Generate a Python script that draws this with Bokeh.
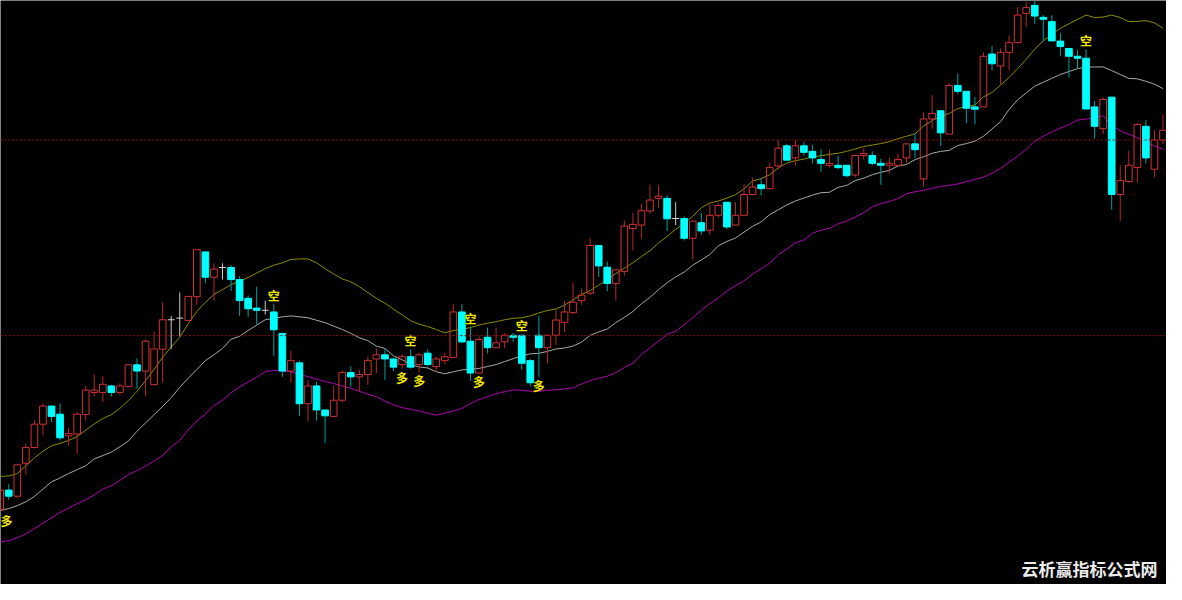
from bokeh.plotting import figure
from bokeh.models import ColumnDataSource, Range1d, Span, Label
from bokeh.core.properties import value
from bokeh.embed import file_html
from bokeh.resources import INLINE
import numpy as np

# ---------------- data ----------------
opens = [77, 97, 90.7, 124.5, 140.7, 164.7, 183.3, 175, 152.7, 154.7,
         174.7, 197.3, 197.3, 204, 197.3, 203.3, 225.7, 219.3, 205.3, 241.7,
         272, 273.7, 271.3, 295.7, 341.7, 315.7, 325.7, 325.7, 313.3, 294,
         284, 281.7, 280, 258, 219.3, 227.7, 185.7, 204, 179.3, 172.7,
         189.3, 217.7, 213.3, 215.7, 231.7, 236, 231.7, 226, 234, 226,
         237.7, 224, 230, 233.3, 280, 250, 217.3, 254, 243.3, 249.3,
         256, 256, 230, 256, 243.3, 256, 269.3, 279.3, 291.7, 299.3,
         348.3, 326, 309.3, 321.7, 365.7, 369.3, 383.7, 396.7, 396.7, 376,
         376, 355.7, 371.7, 364, 379.3, 392.7, 369.3, 379.3, 400.7, 410.7,
         406.7, 430, 450.7, 438.3, 450.7, 445, 436.7, 430.7, 430.7, 430.7,
         420.7, 440.7, 440.7, 432.7, 430.7, 430.7, 438.3, 452.7, 416.7, 478.3,
         486.7, 462.7, 512.7, 506.7, 490.7, 490.7, 545, 532.7, 546.7, 556.7,
         586.7, 595, 582.7, 578.3, 558.3, 550.7, 542.7, 540.7, 490.7, 468.3,
         500.7, 400.7, 414, 428.3, 470.7, 426.7, 456.7]
highs = [100, 103, 124, 145, 169, 186, 184, 186, 160.7, 177.3,
         204, 216, 214, 205, 206.7, 226, 232.3, 251.7, 260, 290,
         276, 300, 296, 344, 342, 330, 330, 328.3, 316.7, 297,
         306, 291.7, 288.3, 258.3, 240, 230, 210, 208.3, 179.5, 204,
         220, 224, 220.7, 234, 242.7, 241.7, 233, 236.7, 241.7, 238.3,
         241.7, 234, 238.3, 288.3, 288.3, 265, 255, 264, 264, 258.3,
         258.3, 257, 232, 276, 257, 281.7, 291, 310, 304, 356,
         348.5, 331.7, 323.5, 374, 381.7, 390.7, 410.7, 410.7, 400, 392.7,
         378.3, 373.5, 381.7, 390.7, 391.7, 393, 392.7, 411.7, 418.3, 416.7,
         433.3, 456.7, 452.7, 456.7, 455, 451.7, 447.3, 446.7, 440.7, 431,
         441, 448.3, 445, 437.3, 438.3, 442.7, 453, 463.3, 485, 502.7,
         487, 515, 525, 507, 500.7, 546.7, 553.3, 550.7, 564, 593.3,
         598.3, 599.5, 585, 585, 566.7, 551, 549.3, 550, 496.7, 500.7,
         501, 430.7, 446, 474, 477.3, 466.7, 482.7]
lows = [74, 87, 89, 113, 140, 153.3, 167, 148, 142.7, 134.7,
        168.3, 193.3, 187.3, 193.3, 195, 203, 201.3, 193.3, 205, 207.3,
        241.7, 255, 271, 287.3, 309.3, 291.7, 313.3, 301.7, 276, 275,
        267, 277.3, 235, 213.3, 207.3, 173.3, 167.3, 168.3, 145, 172.5,
        186.7, 203.3, 198.3, 205, 217.3, 210, 219.3, 221.7, 221.7, 218.3,
        224, 218.3, 226, 233, 248, 209.3, 217.3, 237.3, 243, 242.7,
        249.3, 220.7, 203.3, 213.3, 227.3, 246, 259.3, 278, 287.3, 297.3,
        316, 301.3, 291.7, 317.3, 343.3, 355, 380.7, 387.3, 363.3, 369.3,
        353.3, 334, 359.3, 359.3, 377.3, 365, 369, 379, 400, 400,
        406.5, 426.7, 435.8, 430.7, 440.7, 432.7, 424, 428.3, 426.7, 418.3,
        418.3, 436.7, 430.7, 410.7, 422.7, 430.5, 432.7, 438.3, 408.3, 468.3,
        450.7, 462.5, 504, 474, 472.7, 490.5, 528.3, 514, 528.3, 556.5,
        572.7, 576, 558.3, 558.3, 542.7, 520.7, 530, 488.3, 458.3, 462.7,
        385, 373.3, 412.7, 412.7, 432.7, 418.3, 452.7]
closes = [97, 90.7, 123, 140.7, 164.7, 183.3, 172.7, 150.7, 155, 175,
          199.7, 199.7, 205.7, 197.3, 204, 225.7, 219.3, 250, 242, 272,
          272, 273.7, 296, 344, 315.7, 324, 325.7, 313.3, 291.7, 283.3,
          281.7, 281.7, 261.7, 219.3, 230, 185.7, 204, 179.3, 173.3, 189.3,
          217.7, 213.3, 215.7, 230, 236, 231.7, 223.3, 234, 223.3, 236,
          226, 231.7, 234, 280, 249.3, 217.3, 251.7, 243.3, 248.3, 256,
          254, 227.3, 207.3, 243.3, 256, 271.7, 280, 290, 297.3, 348.3,
          327.3, 309.3, 323.3, 368.3, 370, 384, 395, 399, 375.7, 376,
          355.7, 373.3, 363.3, 379.3, 389.3, 367.3, 379.3, 400.7, 408.3, 406.7,
          428.3, 448.3, 436, 450.7, 444, 438.3, 432.7, 432.7, 428.3, 420,
          440.7, 442.7, 432.7, 430.7, 432.7, 436.7, 452.7, 446.7, 478.3, 484,
          464, 512.7, 506.7, 489.3, 488.3, 542.7, 535, 546.7, 556.7, 585,
          592.7, 584, 580.7, 558.5, 552.7, 542.7, 540.7, 488.5, 470.7, 498.3,
          400.7, 415, 430.7, 472.7, 438.3, 456.7, 466.7]

upper_band = [111, 111.5, 114, 122, 130, 137, 142.5, 145, 148, 152,
              158.5, 165, 170.5, 174.5, 181, 189, 198.5, 209.5, 221, 233.5,
              244, 254, 268, 280.5, 290, 298, 303, 308, 311.5, 315.5,
              320, 324.5, 328, 330.5, 334, 334.5, 334.5, 330.5, 324.5, 319,
              314, 311, 306, 300, 294, 289, 283, 277, 271, 267.5,
              265, 262, 258.5, 261, 262, 264, 266.5, 268.5, 270, 272,
              273.5, 274, 276, 279, 281.5, 283, 287, 292.5, 298, 302,
              307.5, 313, 319.5, 325, 330.5, 337, 343, 351, 357.5, 365,
              371, 378.3, 387, 392, 394, 397, 400.5, 406.5, 414.5, 417,
              421, 428, 433, 435.5, 437, 439.5, 440.5, 442, 443, 445,
              447.5, 450, 451.5, 453, 455, 458, 460.5, 463, 471, 476.5,
              481, 484, 489, 491, 492.5, 501, 505.5, 513, 521, 530,
              539.5, 550, 558.5, 565, 571.5, 576, 580.5, 585, 582.5, 583,
              585, 582.5, 578.3, 578.5, 579.3, 577, 571.5]
middle_band = [76, 78, 81, 85, 90.5, 98, 105.5, 109.5, 114, 118,
               122, 129, 132.5, 136, 141.5, 147.5, 157.5, 166, 174.5, 183,
               192, 202.5, 212, 221, 230, 236, 242.5, 252, 255, 261,
               266.5, 272, 273.5, 275, 276, 275, 274, 271.5, 269, 265.5,
               262, 258, 253.5, 250.5, 245, 242.5, 235, 231, 226, 223.5,
               222.5, 218.5, 216.5, 218.5, 220.5, 221.2, 222, 224, 226, 229,
               232, 235, 237, 237.5, 239.5, 242, 243, 245, 249, 256,
               259.5, 262.5, 269, 274.5, 280.5, 288.5, 295, 303, 310, 316,
               321, 328, 333.5, 339, 348, 352.5, 356, 362, 368, 372.5,
               380, 385, 390, 394, 397, 400, 402.5, 403, 408, 410,
               415, 417.5, 421, 423.5, 425.5, 430, 431.5, 436.5, 439.5, 443,
               445, 446, 451, 453, 455.5, 460.5, 468, 475.5, 488, 498,
               505, 512, 516, 520, 524, 527, 530, 531.5, 531.7, 531.7,
               528, 524, 520, 519.5, 517, 514, 509.5]
lower_band = [44, 45, 48, 52, 57.5, 63, 68.5, 74, 78.5, 83,
              87, 92, 98, 101.5, 107, 113, 117, 121.5, 127, 132.5,
              141.5, 148, 159, 168, 175, 184, 189, 197, 203, 208,
              213, 218.5, 220, 219.5, 218.5, 216, 213.5, 211, 208.5, 206.5,
              204, 201.5, 198.5, 195.5, 193, 188.5, 184.5, 181.7, 180, 178.3,
              176, 174, 176, 178.3, 181, 186, 190, 193, 196, 198,
              200, 199.5, 198.5, 198.5, 199.5, 200, 201, 202, 206, 209.5,
              212, 214, 217.5, 223, 227.3, 236.5, 243, 250, 257, 260,
              267, 274, 282, 288.5, 294.5, 301.5, 307, 312, 319, 324.5,
              330, 339, 344.5, 351, 354, 361, 364, 366, 370.5, 373.3,
              377.5, 382, 388, 391.5, 393.5, 396.5, 401.5, 403.5, 405, 407,
              409, 410, 411.5, 414, 416, 418.5, 422.5, 427.5, 434, 440,
              447, 455.5, 460.5, 465, 469, 472.5, 477, 478.3, 479.5, 481.7,
              472, 466, 462.7, 459, 455, 450.5, 447]

short_signal_idx = [32, 48, 55, 61, 127]   # "空"
long_signal_idx = [0, 47, 49, 56, 63]      # "多"
reference_levels = [456.7, 255.7]
watermark = "云析赢指标公式网"

# ---------------- build ----------------
o = np.array(opens, dtype=float)
h = np.array(highs, dtype=float)
l = np.array(lows, dtype=float)
c = np.array(closes, dtype=float)
n = len(o)
idx = np.arange(n)
body_top = np.maximum(o, c)
body_bot = np.minimum(o, c)
up = c > o
down = c < o
flat = c == o

x_start, x_end = 0.035, 136.41

p = figure(width=1166, height=584, x_range=Range1d(x_start, x_end),
           y_range=Range1d(0, 600), output_backend="svg", toolbar_location=None,
           x_axis_type=None, y_axis_type=None, background_fill_color="black",
           border_fill_color="black", outline_line_color=None, min_border=0)
p.grid.visible = False

for lvl in reference_levels:
    p.add_layout(Span(location=lvl, dimension="width", line_color="#8c1414",
                      line_dash="2 2", line_width=1))

# bands
p.line(idx, upper_band, line_color="#8c8c00", line_width=1)
p.line(idx, middle_band, line_color="#a8a8a8", line_width=1)
p.line(idx, lower_band, line_color="#b000b0", line_width=1)

# wicks
up_src = ColumnDataSource(dict(x=idx[up], h=h[up], l=l[up], t=body_top[up], b=body_bot[up]))
dn_src = ColumnDataSource(dict(x=idx[down], h=h[down], l=l[down], t=body_top[down], b=body_bot[down]))
fl_src = ColumnDataSource(dict(x=idx[flat], h=h[flat], l=l[flat], t=body_top[flat],
                               x0=idx[flat] - 0.4, x1=idx[flat] + 0.4))

p.segment(x0="x", y0="h", x1="x", y1="t", source=up_src, line_color="#b42828", line_width=1)
p.segment(x0="x", y0="b", x1="x", y1="l", source=up_src, line_color="#b42828", line_width=1)
p.segment(x0="x", y0="h", x1="x", y1="l", source=dn_src, line_color="#00a0a0", line_width=1)
p.segment(x0="x", y0="h", x1="x", y1="l", source=fl_src, line_color="#c8c8c8", line_width=1)

# bodies
p.vbar(x="x", width=0.78, top="t", bottom="b", source=up_src, fill_alpha=0,
       line_color="#d23232", line_width=1)
p.vbar(x="x", width=0.78, top="t", bottom="b", source=dn_src, fill_color="#00ffff",
       line_color="#00ffff", line_width=1)
p.segment(x0="x0", y0="t", x1="x1", y1="t", source=fl_src, line_color="#d8d8d8", line_width=1)

# signals (a label whose candle sits on the left edge is kept inside the frame)
def signal_source(indices, prices, glyph):
    xs = idx[indices].astype(float)
    aligns = ["left" if x < x_start + 0.5 else "center" for x in xs]
    xs = np.maximum(xs, x_start)
    return ColumnDataSource(dict(x=xs, y=prices[indices], t=[glyph] * len(xs), a=aligns))

si = np.array(short_signal_idx)
li = np.array(long_signal_idx)
p.text(x="x", y="y", text="t", text_align="a", source=signal_source(si, h, "空"),
       text_baseline="bottom", text_color="#f2e600", text_font=value("Noto Sans CJK SC"),
       text_font_size="12px", text_font_style="bold")
p.text(x="x", y="y", text="t", text_align="a", source=signal_source(li, l, "多"),
       text_baseline="top", text_color="#f2e600", text_font=value("Noto Sans CJK SC"),
       text_font_size="12px", text_font_style="bold")

p.add_layout(Label(x=1157, y=4, x_units="screen", y_units="screen", text=watermark,
                   text_align="right", text_baseline="bottom", text_color="#ececec",
                   text_font="Noto Sans CJK SC", text_font_size="17px",
                   text_font_style="bold"))

open("out.html", "w").write(file_html(p, INLINE))
